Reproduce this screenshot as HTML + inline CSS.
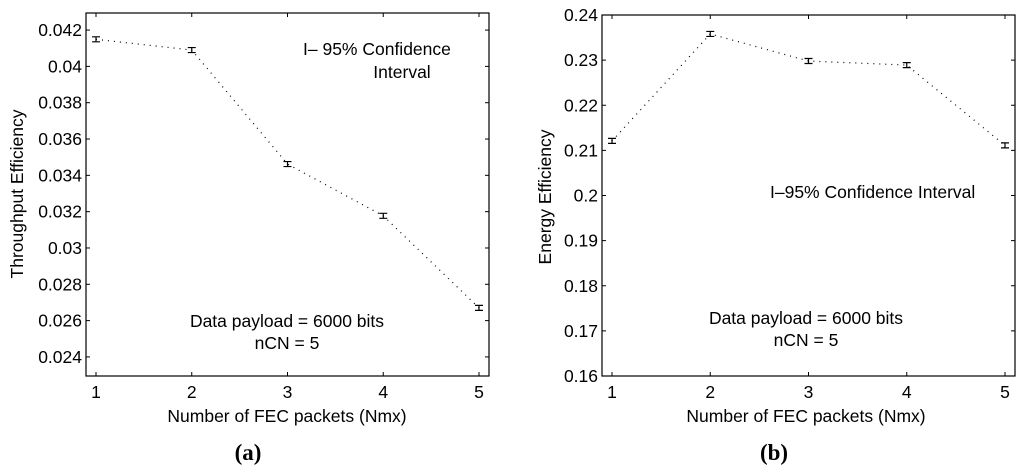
<!DOCTYPE html>
<html><head><meta charset="utf-8"><style>
body{margin:0;background:#fff;}
svg{display:block;font-family:"Liberation Sans",sans-serif;}
</style></head><body>
<svg id="s" width="1024" height="474" viewBox="0 0 1024 474"></svg>
<script>
const categories=[1,2,3,4,5];
const throughputValues=[0.04149,0.0409,0.03462,0.03177,0.0267];
const energyValues=[0.2121,0.2358,0.2298,0.2289,0.2111];
const throughputTicks=["0.024","0.026","0.028","0.03","0.032","0.034","0.036","0.038","0.04","0.042"];
const energyTicks=["0.16","0.17","0.18","0.19","0.2","0.21","0.22","0.23","0.24"];
const xTickLabels=["1","2","3","4","5"];
const NS="http://www.w3.org/2000/svg";
const FS=17.5;
const svg=document.getElementById('s');
function mk(tag,attrs,parent,text){const e=document.createElementNS(NS,tag);for(const k in attrs)e.setAttribute(k,attrs[k]);if(text!==undefined)e.textContent=text;(parent||svg).appendChild(e);return e;}
function chart(cfg){
  const g=mk('g',{});
  
  
  const L=cfg.L,R=cfg.R,T=cfg.T,B=cfg.B;
  const xs=v=>cfg.x1+(v-1)*(cfg.x5-cfg.x1)/4;
  const ys=v=>B-(v-cfg.ymin)/(cfg.ymax-cfg.ymin)*(B-T);
  const box=mk('rect',{x:L,y:T,width:R-L,height:B-T,fill:'none',stroke:'#000','stroke-width':1.2},g);
  
  cfg.ticks.forEach(t=>{const v=parseFloat(t),y=ys(v);
    mk('line',{x1:L,x2:L+4,y1:y,y2:y,stroke:'#000'},g);
    mk('line',{x1:R,x2:R-4,y1:y,y2:y,stroke:'#000'},g);
    const tl=mk('text',{x:L-4,y:y+6,'text-anchor':'end','font-size':FS},g,t);
    
  });
  xTickLabels.forEach((t,i)=>{const x=xs(categories[i]);
    mk('line',{x1:x,x2:x,y1:B,y2:B-4,stroke:'#000'},g);
    mk('line',{x1:x,x2:x,y1:T,y2:T+4,stroke:'#000'},g);
    const tl=mk('text',{x:x,y:398,'text-anchor':'middle','font-size':FS},g,t);
    
  });
  const pts=cfg.vals.map((v,i)=>xs(categories[i])+','+ys(v)).join(' ');
  const line=mk('polyline',{points:pts,fill:'none',stroke:'#000','stroke-width':1.2,'stroke-dasharray':'1 5'},g);
  
  cfg.vals.forEach((v,i)=>{const x=xs(categories[i]),y=ys(v),h=2.5,w=4;
    const eb=mk('path',{d:`M${x-w},${y-h}H${x+w}M${x},${y-h}V${y+h}M${x-w},${y+h}H${x+w}`,stroke:'#000','stroke-width':1.2,fill:'none'},g);
    
  });
  const yl=mk('text',{x:0,y:0,transform:`translate(${cfg.ylx},${cfg.yly}) rotate(-90)`,'text-anchor':'middle','font-size':FS},g,cfg.ylabel);
  
  const xl=mk('text',{x:cfg.cx,y:422,'text-anchor':'middle','font-size':FS},g,'Number of FEC packets (Nmx)');
  
  const a1=mk('text',{x:cfg.cx,y:cfg.ann1,'text-anchor':'middle','font-size':FS},g,'Data payload = 6000 bits');
  
  const a2=mk('text',{x:cfg.cx,y:cfg.ann1+22,'text-anchor':'middle','font-size':FS},g,'nCN = 5');
  
  const cap=mk('text',{x:cfg.capx,y:460,'text-anchor':'middle','font-size':23,'font-weight':'bold','font-family':'Liberation Serif, serif'},g,cfg.cap);
  
  return g;
}
const ga=chart({name:'throughput-chart',L:86,R:489,T:13,B:376,x1:96,x5:479,ymin:0.02295,ymax:0.04294,vals:throughputValues,ticks:throughputTicks,ylabel:'Throughput Efficiency',ylx:23,yly:194,cx:287,ann1:327,cap:'(a)',capx:248});
const gb=chart({name:'energy-chart',L:602,R:1015,T:15,B:376,x1:612,x5:1005,ymin:0.16,ymax:0.24,vals:energyValues,ticks:energyTicks,ylabel:'Energy Efficiency',ylx:551,yly:197,cx:806,ann1:324,cap:'(b)',capx:774});
const la=mk('text',{x:303,y:55,'font-size':FS},ga,'I– 95% Confidence');

const la2=mk('text',{x:402,y:78,'text-anchor':'middle','font-size':FS},ga,'Interval');

const lb=mk('text',{x:770,y:198,'font-size':FS},gb,'I–95% Confidence Interval');

</script>
</body></html>
